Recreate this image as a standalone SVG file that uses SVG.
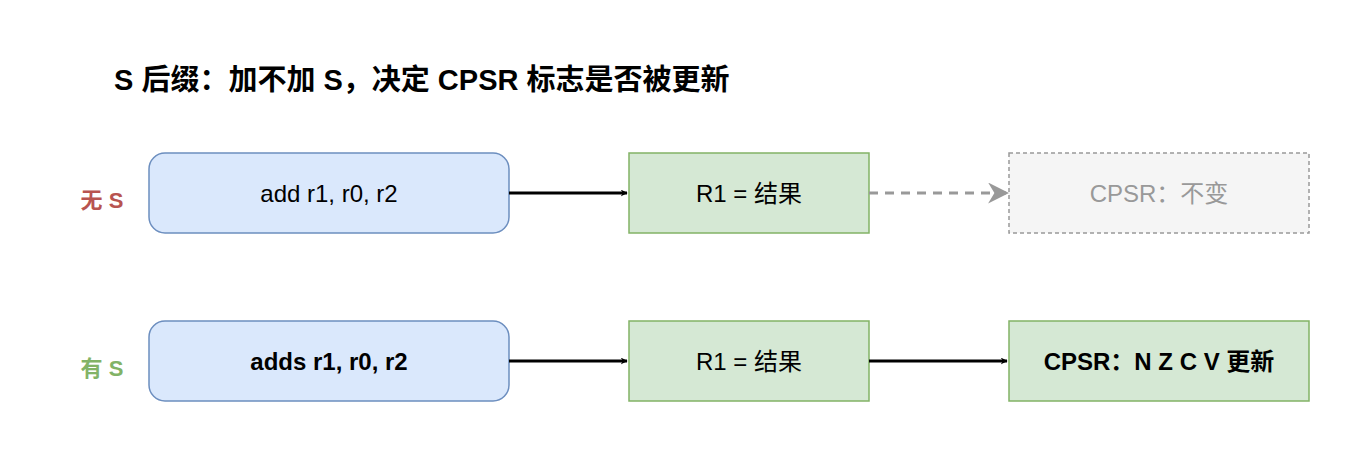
<svg xmlns="http://www.w3.org/2000/svg" width="1358" height="450" viewBox="0 0 1358 450">
<style>
text{font-family:"Liberation Sans","Noto Sans CJK SC",sans-serif;text-anchor:middle;dominant-baseline:central}
.blue{fill:#dae8fc;stroke:#6c8ebf;stroke-width:1.5}
.green{fill:#d5e8d4;stroke:#82b366;stroke-width:1.5}
.t{font-size:24px;fill:#000}
.b{font-weight:bold}
</style>
<defs>
<marker id="a" viewBox="0 0 10 10" refX="9" refY="5" markerWidth="7" markerHeight="7" orient="auto" markerUnits="userSpaceOnUse"><path d="M0,0L10,5L0,10L3,5Z" fill="#000"/></marker>
<marker id="g" viewBox="0 0 10 10" refX="9" refY="5" markerWidth="7" markerHeight="7" orient="auto"><path d="M0,0L10,5L0,10L3,5Z" fill="#999"/></marker>
</defs>
<text x="114" y="80" style="text-anchor:start;font-size:29px" class="b">S 后缀：加不加 S，决定 CPSR 标志是否被更新</text>
<g id="lbl1"><text x="102" y="200" class="b" style="font-size:22px;fill:#b85450">无 S</text></g>
<g id="lbl2"><text x="102" y="368" class="b" style="font-size:22px;fill:#82b366">有 S</text></g>
<g id="n1"><rect x="149" y="153" width="360" height="80" rx="16" class="blue"/><text x="329" y="193" class="t">add r1, r0, r2</text></g>
<g id="n2"><rect x="629" y="153" width="240" height="80" class="green"/><text x="749" y="193" class="t">R1 = 结果</text></g>
<g id="n3"><rect x="1009" y="153" width="300" height="80" fill="#f5f5f5" stroke="#999" stroke-width="1.5" stroke-dasharray="4 3"/><text x="1159" y="193" class="t" style="fill:#999">CPSR：不变</text></g>
<g id="n4"><rect x="149" y="321" width="360" height="80" rx="16" class="blue"/><text x="329" y="361" class="t b">adds r1, r0, r2</text></g>
<g id="n5"><rect x="629" y="321" width="240" height="80" class="green"/><text x="749" y="361" class="t">R1 = 结果</text></g>
<g id="n6"><rect x="1009" y="321" width="300" height="80" class="green"/><text x="1159" y="361" class="t b">CPSR：N Z C V 更新</text></g>
<g id="edges" fill="none" stroke-width="3">
<line x1="509" y1="193" x2="627" y2="193" stroke="#000" marker-end="url(#a)"/>
<line x1="869" y1="193" x2="1007" y2="193" stroke="#999" stroke-dasharray="9 7" marker-end="url(#g)"/>
<line x1="509" y1="361" x2="627" y2="361" stroke="#000" marker-end="url(#a)"/>
<line x1="869" y1="361" x2="1007" y2="361" stroke="#000" marker-end="url(#a)"/>
</g>
</svg>
